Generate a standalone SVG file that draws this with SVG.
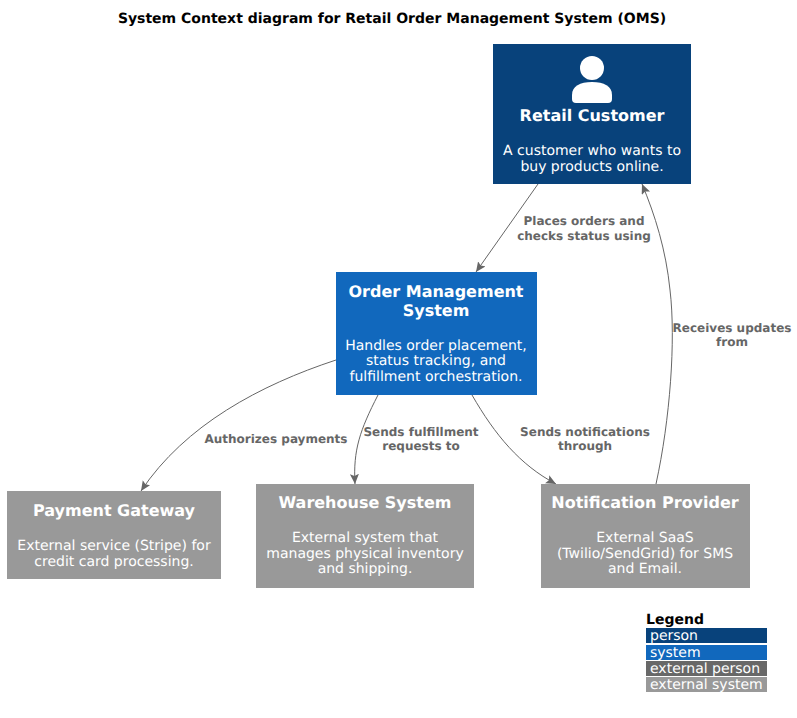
<svg xmlns="http://www.w3.org/2000/svg" width="797" height="718" viewBox="0 0 797 718">
<defs><marker id="arr" markerUnits="userSpaceOnUse" markerWidth="12" markerHeight="12" refX="10" refY="4.5" orient="auto"><path d="M0,0 L10,4.5 L0,9 L2,4.5 Z" fill="#666"/></marker></defs>
<style>
text{font-family:"DejaVu Sans",sans-serif;text-anchor:middle;text-rendering:geometricPrecision}
.t{font-weight:bold;font-size:16px;fill:#fff}
.d{font-size:14px;fill:#fff}
.l{font-weight:bold;font-size:12px;fill:#666}
.c{fill:none;stroke:#666;stroke-width:1;marker-end:url(#arr)}
.lg{font-size:14px;fill:#fff;text-anchor:start}
</style>
<rect width="797" height="718" fill="#fff"/>
<text x="392" y="23" font-size="14px" font-weight="bold" fill="#000">System Context diagram for Retail Order Management System (OMS)</text>
<g id="connectors">
<path class="c" d="M538,184 L476,272"/>
<path class="c" d="M656,484 C670,420 676,340 670,290 C666,250 655,215 642,184"/>
<path class="c" d="M336,360 C260,385 185,425 141,491"/>
<path class="c" d="M378,395 C360,430 353,450 355,484"/>
<path class="c" d="M472,395 C495,435 520,465 556,484"/>
<g>
<text class="l" x="584" y="225">Places orders and</text><text class="l" x="584" y="240">checks status using</text>
<text class="l" x="732" y="332">Receives updates</text><text class="l" x="732" y="346">from</text>
<text class="l" x="276" y="443">Authorizes payments</text>
<text class="l" x="421" y="436">Sends fulfillment</text><text class="l" x="421" y="450">requests to</text>
<text class="l" x="585" y="436">Sends notifications</text><text class="l" x="585" y="450">through</text>
</g>
</g>
<g id="retail-customer">
<rect x="493" y="44" width="198" height="140" fill="#08427b"/>
<circle cx="592" cy="68" r="12" fill="#fff"/>
<path d="M572,99 L572,95 C572,86 580,82 592,82 C604,82 612,86 612,95 L612,99 Q612,103 608,103 L576,103 Q572,103 572,99 Z" fill="#fff"/>
<text class="t" x="592" y="121">Retail Customer</text>
<text class="d" x="592" y="155">A customer who wants to</text>
<text class="d" x="592" y="171">buy products online.</text>
</g>
<g id="oms">
<rect x="336" y="272" width="201" height="123" fill="#1168bd"/>
<text class="t" x="436" y="297">Order Management</text>
<text class="t" x="436" y="316">System</text>
<text class="d" x="436" y="350">Handles order placement,</text>
<text class="d" x="436" y="365">status tracking, and</text>
<text class="d" x="436" y="381">fulfillment orchestration.</text>
</g>
<g id="payment-gateway">
<rect x="7" y="491" width="214" height="88" fill="#999"/>
<text class="t" x="114" y="516">Payment Gateway</text>
<text class="d" x="114" y="550">External service (Stripe) for</text>
<text class="d" x="114" y="566">credit card processing.</text>
</g>
<g id="warehouse-system">
<rect x="256" y="484" width="218" height="104" fill="#999"/>
<text class="t" x="365" y="508">Warehouse System</text>
<text class="d" x="365" y="542">External system that</text>
<text class="d" x="365" y="558">manages physical inventory</text>
<text class="d" x="365" y="573">and shipping.</text>
</g>
<g id="notification-provider">
<rect x="541" y="484" width="209" height="104" fill="#999"/>
<text class="t" x="645" y="508">Notification Provider</text>
<text class="d" x="645" y="542">External SaaS</text>
<text class="d" x="645" y="558">(Twilio/SendGrid) for SMS</text>
<text class="d" x="645" y="573">and Email.</text>
</g>
<g id="legend">
<text x="646" y="624" font-size="14px" font-weight="bold" fill="#000" style="text-anchor:start">Legend</text>
<rect x="646" y="628" width="121" height="15" fill="#08427b"/>
<rect x="646" y="645" width="121" height="15" fill="#1168bd"/>
<rect x="646" y="661" width="121" height="15" fill="#686868"/>
<rect x="646" y="677" width="121" height="15" fill="#999"/>
<text class="lg" x="650" y="640">person</text>
<text class="lg" x="650" y="657">system</text>
<text class="lg" x="650" y="673">external person</text>
<text class="lg" x="650" y="689">external system</text>
</g>
</svg>
